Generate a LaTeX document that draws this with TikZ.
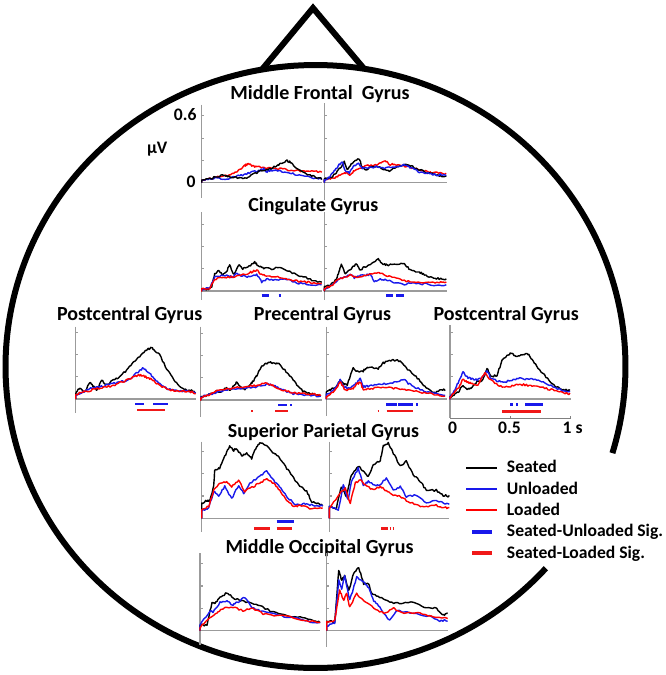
\documentclass[tikz,border=0pt]{standalone}
\usepackage{fontspec}
\setmainfont{Carlito}
\definecolor{tblue}{RGB}{25,25,235}
\definecolor{tred}{RGB}{240,25,25}
\definecolor{axgray}{RGB}{155,155,155}
\newcommand\trc[4]{\draw[trace,#1] (#2,#3) \foreach \x/\y [remember=\x as \px (initially 0), remember=\y as \py (initially 0)] in {#4} {\foreach \j in {1,2,3,4,5} { -- ({#2+\px+(\x-\px)*\j/5},{#3-\py-(\y-\py)*\j/5+1.0*rand}) }};}
\newcommand\yax[4]{\draw[axis] (#1,#2) -- (#1,#3);
  \foreach \k in {1,2,3} \draw[axis] (#1,#4-22.3*\k) -- ++(2.5,0);}
\newcommand\zl[3]{\draw[axis] (#1,#3) -- (#2,#3);}
\newcommand\sig[4]{\draw[sigbar,#1] (#2,#4) -- (#3,#4);}
\begin{document}
\begin{tikzpicture}[x=0.75pt,y=-0.75pt,
  head/.style={line width=4.5pt},
  axis/.style={draw=axgray,line width=0.9pt},
  trace/.style={line width=1.05pt,line join=round},
  sigbar/.style={line width=2pt},
  legsig/.style={line width=3.2pt},
  legline/.style={line width=1.5pt},
  title/.style={font=\bfseries\fontsize{15}{18}\selectfont,inner sep=0pt,anchor=base},
  lab/.style={font=\bfseries\fontsize{13.2}{16}\selectfont,inner sep=0pt,anchor=base}]
\pgfmathsetseed{42}
\useasboundingbox (0,0) rectangle (666,675);
% head (ellipse centre 315.5,366.5; open between 16.7 and 42 degrees, y downwards)
\coordinate (hc) at (315.5,366.5);
\draw[head] plot[domain=42:376.7,samples=240,variable=\t] ({315.5+310*cos(\t)},{366.5+301.5*sin(\t)});
\coordinate (nl) at (262,69.5);
\coordinate (nt) at (313,8);
\coordinate (nr) at (364,68.7);
\draw[head,line join=miter] (nl) -- (nt) -- (nr);
% titles
\node[title] (tmf) at (320,99) {Middle Frontal\ \ Gyrus};
\node[title] (tcg) at (313.3,211) {Cingulate Gyrus};
\node[title] (tpl) at (129.7,320) {Postcentral Gyrus};
\node[title] (tpre) at (322.5,320) {Precentral Gyrus};
\node[title] (tpr) at (506.2,320) {Postcentral Gyrus};
\node[title] (tsp) at (323.5,437.3) {Superior Parietal Gyrus};
\node[title] (tmo) at (319.5,553.3) {Middle Occipital Gyrus};
% axis labels
\node[lab,anchor=base east] (l06) at (196.7,120) {0.6};
\node[lab] (luv) at (157.2,153.3) {µV};
\node[lab,anchor=base east] (l0) at (195.7,187.3) {0};
\node[lab] (lt0) at (452.7,433.3) {0};
\node[lab] (lt05) at (509.5,433.3) {0.5};
\node[lab] (lt1) at (572.7,433.3) {1 s};
% ---------- axes ----------
\yax{201.7}{104.7}{197.5}{182.7} \zl{201.7}{322}{182.7}
\yax{324.3}{103}{200}{182.7} \zl{324.3}{446.6}{182.7}
\yax{201.7}{212.4}{299.6}{291} \zl{201.7}{322}{291}
\yax{324.3}{212.4}{299.6}{291} \zl{324.3}{446.6}{291}
\yax{75.7}{326.7}{413.3}{399} \zl{75.7}{196}{399}
\yax{200.8}{326.7}{416.7}{400} \zl{200.8}{321.7}{400}
\yax{326.2}{326.7}{416}{399} \zl{326.2}{446.7}{399}
\yax{450}{325}{418.3}{399} \zl{450}{570.7}{399}
\draw[axis,draw=gray] (450,418.3) -- (570.7,418.3);
\draw[axis,draw=gray] (510.3,418.3) -- ++(0,-2.5) (570.3,418.3) -- ++(0,-2.5);
\yax{201.7}{441.7}{531.7}{518.3} \zl{201.7}{322.3}{518.3}
\yax{329.3}{441.7}{531.7}{518.3} \zl{329.3}{449.3}{518.3}
\yax{200}{553.3}{645}{630.5} \zl{200}{320}{630.5}
\yax{326.7}{553.3}{646.7}{630.5} \zl{326.7}{447.7}{630.5}
% ---------- Middle Frontal ----------
\trc{red}{201.7}{182.7}{0/3,8/4,16/6,24/7,32/9,38/13,43/17,46/19,50/17,55/16,62/15,70/14,78/14,86/13,94/12,102/11,110/12,116/11,120/10}
\trc{tblue}{201.7}{182.7}{0/2,8/4,15/5,22/3,30/5,38/7,45/9,52/11,58/12,62/14,65/11,68/12,73/13,80/11,88/10,96/8,104/6,112/5,120/4}
\trc{black}{201.7}{182.7}{0/3,8/4,15/6,22/8,27/6,33/5,40/4,45/5,52/9,60/12,68/14,75/17,80/20,85/22,88/21,92/17,97/13,103/10,110/7,116/5,120/4}
\trc{red}{324.3}{182.7}{0/3,6/4,12/6,18/8,22/10,26/8,30/12,36/15,42/17,50/17,56/19,61/22,65/18,70/19,76/17,84/16,92/14,100/12,106/10,112/10,118/9,122/9}
\trc{black}{324.3}{182.7}{0/4,6/5,12/10,17/16,20/21,23/13,27/19,31/22,35/24,38/15,43/13,48/17,55/16,60/13,65/12,70/14,75/17,82/18,86/17,92/14,100/11,108/9,115/7,122/6}
\trc{tblue}{324.3}{182.7}{0/3,5/5,10/12,14/17,18/21,21/12,25/10,30/17,34/19,38/14,45/15,52/16,60/15,68/16,75/17,82/18,88/14,95/11,102/10,110/8,116/8,122/7}
% ---------- Cingulate ----------
\trc{black}{201.7}{291}{0/2,6/2,10/4,13/17,17/21,21/16,25/20,28/26,32/17,37/26,41/22,46/24,53/29,57/25,62/23,70/22,80/24,88/19,95/16,103/14,110/11,120/9}
\trc{tblue}{201.7}{291}{0/2,8/3,13/14,18/15,25/16,30/14,35/17,42/15,48/14,55/17,60/9,66/12,75/11,85/12,95/8,105/7,120/6}
\trc{red}{201.7}{291}{0/2,8/3,13/12,20/13,28/14,36/15,45/17,50/19,55/21,60/16,66/15,76/14,86/12,95/10,105/9,112/8,120/8}
\trc{black}{324.3}{291}{0/4,6/6,12/11,14/17,17/26,21/17,27/22,32/27,36/21,40/24,46/26,54/32,58/27,62/26,72/27,80/27,86/21,95/19,100/16,108/14,115/12,122/12}
\trc{tblue}{324.3}{291}{0/2,8/6,14/12,20/14,26/17,30/13,36/15,42/16,46/17,50/10,56/12,62/11,70/8,80/7,90/8,100/7,110/6,122/6}
\trc{red}{324.3}{291}{0/3,8/5,12/11,18/13,26/16,32/14,40/15,48/17,55/19,60/16,68/14,78/11,88/9,98/8,108/8,115/9,122/9}
\sig{tblue}{261.6}{268.8}{295.7} \sig{tblue}{278.6}{280.7}{295.7}
\sig{tblue}{386}{393}{295.7} \sig{tblue}{396}{404}{295.7}
% ---------- Postcentral left ----------
\trc{black}{75.7}{399}{0/6,4/11,9/7,14/17,18/12,21/9,26/19,31/14,38/19,44/22,51/29,58/37,64/43,71/49,75/51,78/50,84/44,91/30,98/19,105/11,111/9,117/8,120/7}
\trc{tblue}{75.7}{399}{0/4,6/6,11/9,16/11,24/12,32/14,40/16,48/18,54/20,60/25,64/28,67/31,69/30,73/27,78/21,84/15,90/11,97/9,105/8,113/8,120/7}
\trc{red}{75.7}{399}{0/4,6/7,12/8,20/10,28/12,36/13,44/16,52/19,58/22,63/24,68/23,73/21,78/18,85/13,92/10,100/8,108/8,115/7,120/6}
\sig{tblue}{135}{144}{404} \sig{tblue}{153.3}{168.3}{404}
\sig{tred}{137}{165}{410}
% ---------- Precentral 1 ----------
\trc{black}{200.8}{400}{0/3,5/4,10/6,15/9,20/8,25/12,29/10,33/14,36/18,41/12,45/11,50/16,53/20,57/26,60/33,65/36,69/38,73/37,78/36,84/30,90/23,96/15,102/9,108/7,114/5,120/4}
\trc{tblue}{200.8}{400}{0/3,8/5,16/8,25/10,33/11,42/12,50/12,58/14,66/16,72/15,78/12,86/8,94/6,102/5,110/5,120/3}
\trc{red}{200.8}{400}{0/2,8/5,16/9,25/11,33/12,42/13,50/14,58/15,66/17,72/15,78/11,86/9,94/7,104/6,112/6,120/5}
\sig{tblue}{278.3}{286.7}{405} \sig{tblue}{290}{291.5}{405}
\sig{tred}{251}{252.5}{411} \sig{tred}{275}{288.3}{411}
% ---------- Precentral 2 ----------
\trc{black}{326.2}{399}{0/7,4/9,10/12,14/19,18/15,21/14,27/31,32/27,37/28,41/32,47/31,52/30,57/36,63/38,67/39,74/38,80/31,87/25,94/18,100/11,108/6,115/9,119/9}
\trc{tblue}{326.2}{399}{0/4,5/7,10/12,14/19,17/13,21/11,27/13,31/17,34/21,37/12,42/13,50/14,58/15,65/16,72/18,78/19,83/15,90/11,100/7,110/5,119/4}
\trc{red}{326.2}{399}{0/2,5/6,10/10,14/17,18/10,21/9,27/11,31/15,34/17,37/9,42/10,50/11,58/12,66/11,73/10,80/9,90/8,100/6,110/4,119/2}
\sig{tblue}{386}{396.7}{404.3} \sig{tblue}{398.3}{413.3}{404.3} \sig{tblue}{416}{418.3}{404.3}
\sig{tred}{377.5}{379}{411} \sig{tred}{386.7}{413.3}{411}
% ---------- Postcentral right ----------
\trc{black}{450}{399}{0/2,5/5,9/8,13/14,17/10,21/11,27/17,33/19,37/31,41/22,47/24,52/38,57/44,61/46,66/43,72/44,78/45,82/39,88/31,96/22,104/14,110/10,116/9,120/9}
\trc{tblue}{450}{399}{0/2,5/10,9/18,13/27,17/22,22/20,27/19,33/22,37/29,41/20,48/18,55/17,62/19,68/21,75/20,82/20,90/18,98/15,106/11,114/8,120/7}
\trc{red}{450}{399}{0/2,5/7,9/12,13/20,17/17,22/15,28/14,35/27,40/19,48/14,55/12,62/13,68/15,75/14,82/13,90/12,98/10,106/8,114/6,120/5}
\sig{tblue}{510}{512.7}{404.3} \sig{tblue}{516}{518.3}{404.3} \sig{tblue}{525}{543.3}{404.3}
\sig{tred}{502.3}{540.7}{411.7}
% ---------- Superior Parietal ----------
\trc{black}{201.7}{518.3}{0/15,5/18,8/17,12/32,13/48,18/50,23/62,28/72,32/68,35/70,40/62,45/65,50/60,55/72,58/75,65/73,70/67,75/63,80/58,85/50,92/40,98/33,105/27,110/17,115/15,121/13}
\trc{tblue}{201.7}{518.3}{0/8,7/10,12/27,17/22,23/32,30/20,37/33,42/25,48/35,58/42,65/47,72/38,78/32,85/22,92/15,98/13,105/15,113/12,121/13}
\trc{red}{201.7}{518.3}{0/8,7/12,12/28,18/35,25/37,30/32,37/38,43/27,52/32,58/35,65/40,72/35,78/28,85/18,92/12,98/13,108/10,121/10}
\sig{tblue}{276.5}{294}{521.7}
\sig{tred}{254}{270}{528.3} \sig{tred}{276.5}{291.5}{528.3}
\trc{black}{329.3}{518.3}{0/12,7/10,12/32,17/22,22/43,29/52,34/47,39/42,44/53,51/58,54/72,59/75,64/65,71/52,77/57,84/43,91/37,97/28,107/28,114/23,120/22}
\trc{tblue}{329.3}{518.3}{0/12,9/8,14/33,19/18,22/37,29/50,34/33,39/37,47/32,52/35,57/40,64/28,71/32,77/22,87/23,97/15,107/18,114/15,120/15}
\trc{red}{329.3}{518.3}{0/10,11/25,16/30,21/15,26/35,31/38,37/33,44/28,51/32,57/27,64/23,71/22,77/18,87/13,97/12,107/13,114/11,120/10}
\sig{tred}{381}{388}{528.3} \sig{tred}{389.5}{391}{528.3} \sig{tred}{392.5}{394}{528.3}
% ---------- Middle Occipital ----------
\trc{black}{200}{630.5}{0/5,7/6,12/28,15/27,20/33,27/38,33/33,40/30,50/28,60/25,73/18,87/15,100/13,113/10,120/8}
\trc{tblue}{200}{630.5}{0/5,10/20,13/18,20/28,27/30,32/25,37/28,45/33,52/23,60/20,73/17,87/13,100/12,113/8,120/8}
\trc{red}{200}{630.5}{0/3,10/13,17/18,23/22,33/23,43/20,53/22,63/17,77/15,93/13,107/10,120/8}
\trc{black}{326.7}{630.5}{0/10,8/8,12/60,15/50,18/55,22/40,27/57,32/63,37/47,42/47,45/37,53/33,63/28,73/27,87/28,100/23,110/22,117/15,121/17}
\trc{tblue}{326.7}{630.5}{0/5,8/7,12/50,15/42,18/55,23/30,30/53,37/48,42/43,47/30,53/23,63/10,70/20,83/18,100/15,113/10,121/10}
\trc{red}{326.7}{630.5}{0/8,8/10,13/40,17/30,20/37,23/23,30/37,37/30,47/23,57/17,67/22,80/17,93/18,107/13,121/12}
% ---------- legend ----------
\draw[legline,black] (466.3,467.5) -- (497,467.5);
\draw[legline,tblue] (466.3,488.8) -- (497,488.8);
\draw[legline,red] (466.3,510.2) -- (497,510.2);
\draw[legsig,tblue] (472,532) -- (492,532);
\draw[legsig,tred] (472,553.3) -- (492,553.3);
\node[lab,anchor=base west] (lg1) at (506.7,472.3) {Seated};
\node[lab,anchor=base west] (lg2) at (506.7,494) {Unloaded};
\node[lab,anchor=base west] (lg3) at (506.7,515.7) {Loaded};
\node[lab,anchor=base west] (lg4) at (506.7,536.9) {Seated-Unloaded Sig.};
\node[lab,anchor=base west] (lg5) at (506.7,558.3) {Seated-Loaded Sig.};
\end{tikzpicture}
\end{document}
